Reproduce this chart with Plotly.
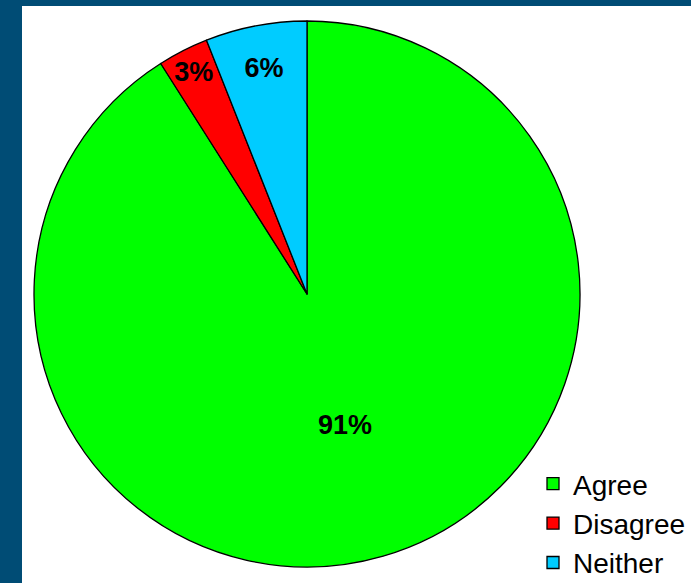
import plotly.graph_objects as go

# Survey response shares
categories = ["Agree", "Disagree", "Neither"]
shares = [91, 3, 6]
slice_colors = ["#00ff00", "#ff0000", "#00ccff"]

W, H = 691, 583
frame_color = "#004c75"

fig = go.Figure(
    go.Pie(
        labels=categories,
        values=shares,
        sort=False,
        direction="clockwise",
        rotation=0,
        marker=dict(colors=slice_colors, line=dict(color="#000000", width=1.3)),
        textinfo="percent",
        texttemplate="%{percent:.0%}",
        textposition="inside",
        insidetextorientation="horizontal",
        textfont=dict(family="Arial, Liberation Sans, sans-serif", size=27, color="#000000", weight="bold"),
        domain=dict(x=[34 / W, 580 / W], y=[1 - 567 / H, 1 - 21 / H]),
        hoverinfo="label+percent",
    )
)

fig.update_layout(
    width=W,
    height=H,
    margin=dict(l=0, r=0, t=0, b=0, autoexpand=False),
    paper_bgcolor="#ffffff",
    uniformtext=dict(minsize=27, mode="show"),
    showlegend=True,
    legend=dict(
        x=533 / W,
        xanchor="left",
        y=-5 / H,
        yanchor="bottom",
        font=dict(family="Arial, Liberation Sans, sans-serif", size=28, color="#000000"),
        bgcolor="rgba(0,0,0,0)",
        traceorder="normal",
    ),
    shapes=[
        # dark frame along the left and top edges
        dict(type="rect", xref="paper", yref="paper", x0=0, x1=22 / W, y0=0, y1=1,
             fillcolor=frame_color, line=dict(width=0), layer="above"),
        dict(type="rect", xref="paper", yref="paper", x0=0, x1=1, y0=1 - 6 / H, y1=1,
             fillcolor=frame_color, line=dict(width=0), layer="above"),
    ],
)

fig.write_html("out.html")
